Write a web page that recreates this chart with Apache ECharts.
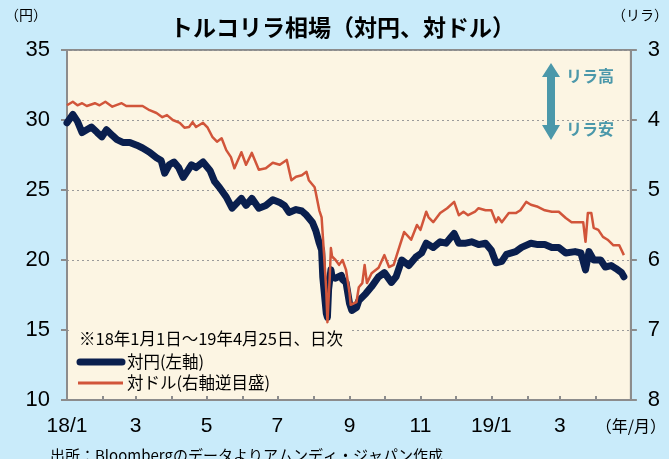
<!DOCTYPE html>
<html>
<head>
<meta charset="utf-8">
<script src="https://cdn.jsdelivr.net/npm/echarts@6/dist/echarts.min.js"></script>
<style>
html,body{margin:0;padding:0;background:#C9EBFA;}
#c{width:669px;height:459px;}
</style>
</head>
<body>
<div id="c"></div>
<script>
// ---- data ----
const axisStart = '2018-01-01';
const axisEnd = '2019-05-01';

const jpyDates = ['2018-01-01','2018-01-06','2018-01-10','2018-01-14','2018-01-18','2018-01-22','2018-01-27','2018-01-31',
'2018-02-04','2018-02-09','2018-02-13','2018-02-18','2018-02-24','2018-03-02','2018-03-07','2018-03-13','2018-03-19',
'2018-03-23','2018-03-26','2018-03-30','2018-04-03','2018-04-07','2018-04-11','2018-04-15','2018-04-18','2018-04-22',
'2018-04-28','2018-05-04','2018-05-08','2018-05-12','2018-05-18','2018-05-23','2018-05-31','2018-06-04','2018-06-09',
'2018-06-15','2018-06-21','2018-06-27','2018-07-03','2018-07-07','2018-07-11','2018-07-17','2018-07-22','2018-07-26',
'2018-07-31','2018-08-03','2018-08-06','2018-08-08','2018-08-09','2018-08-12','2018-08-13','2018-08-14','2018-08-16',
'2018-08-17','2018-08-20','2018-08-25','2018-08-26','2018-08-29','2018-09-01','2018-09-03','2018-09-07','2018-09-09',
'2018-09-15','2018-09-20','2018-09-26','2018-10-01','2018-10-07','2018-10-11','2018-10-16','2018-10-22','2018-10-28',
'2018-11-02','2018-11-06','2018-11-12','2018-11-18','2018-11-23','2018-11-27','2018-11-30','2018-12-04','2018-12-10',
'2018-12-15','2018-12-21','2018-12-27','2019-01-01','2019-01-05','2019-01-10','2019-01-14','2019-01-22','2019-01-27',
'2019-02-04','2019-02-10','2019-02-16','2019-02-22','2019-02-28','2019-03-06','2019-03-14','2019-03-19','2019-03-23',
'2019-03-26','2019-03-30','2019-04-05','2019-04-09','2019-04-14','2019-04-18','2019-04-23','2019-04-25'];
const jpyValues = [29.8,30.4,29.9,29.1,29.3,29.5,29.1,28.8,
29.3,28.9,28.6,28.4,28.4,28.2,28.0,27.7,27.3,
27.1,26.2,26.8,27.0,26.6,25.9,26.4,26.8,26.6,
27.0,26.4,25.6,25.2,24.5,23.7,24.4,23.9,24.4,
23.7,23.9,24.3,24.1,23.9,23.4,23.6,23.5,23.2,
22.7,22.1,21.2,20.7,18.8,16.2,15.9,17.9,19.3,
18.8,18.7,18.9,18.6,18.4,16.9,16.4,16.6,17.1,
17.6,18.1,18.8,19.1,18.4,18.8,20.0,19.6,20.2,
20.5,21.2,20.9,21.3,21.2,21.6,21.9,21.2,21.2,
21.3,21.1,21.2,20.7,19.8,19.9,20.4,20.6,20.9,
21.2,21.1,21.1,20.9,20.9,20.5,20.6,20.5,19.3,
20.6,20.0,20.0,19.5,19.6,19.4,19.1,18.8];

const usdDates = ['2018-01-01','2018-01-06','2018-01-10','2018-01-14','2018-01-18','2018-01-25','2018-01-29','2018-02-03',
'2018-02-09','2018-02-17','2018-02-21','2018-02-27','2018-03-07','2018-03-13','2018-03-19','2018-03-24','2018-03-28',
'2018-04-02','2018-04-08','2018-04-12','2018-04-16','2018-04-19','2018-04-22','2018-04-28','2018-05-02','2018-05-06',
'2018-05-10','2018-05-14','2018-05-18','2018-05-22','2018-05-25','2018-05-31','2018-06-04','2018-06-09','2018-06-15',
'2018-06-21','2018-06-27','2018-07-03','2018-07-09','2018-07-13','2018-07-17','2018-07-22','2018-07-26','2018-07-28',
'2018-08-02','2018-08-03','2018-08-06','2018-08-08','2018-08-10','2018-08-12','2018-08-13','2018-08-15','2018-08-16',
'2018-08-17','2018-08-20','2018-08-23','2018-08-26','2018-08-29','2018-09-01','2018-09-02','2018-09-07','2018-09-09',
'2018-09-12','2018-09-14','2018-09-16','2018-09-20','2018-09-26','2018-10-01','2018-10-05','2018-10-09','2018-10-13',
'2018-10-18','2018-10-24','2018-10-29','2018-11-01','2018-11-06','2018-11-08','2018-11-12','2018-11-18','2018-11-24',
'2018-11-30','2018-12-04','2018-12-08','2018-12-12','2018-12-18','2018-12-21','2018-12-27','2019-01-01','2019-01-05',
'2019-01-07','2019-01-10','2019-01-16','2019-01-22','2019-01-26','2019-01-31','2019-02-04','2019-02-10','2019-02-16',
'2019-02-22','2019-02-28','2019-03-06','2019-03-11','2019-03-17','2019-03-21','2019-03-23','2019-03-25','2019-03-28',
'2019-03-30','2019-04-03','2019-04-07','2019-04-11','2019-04-16','2019-04-21','2019-04-25'];
const usdValues = [3.79,3.74,3.79,3.76,3.80,3.76,3.79,3.74,
3.81,3.76,3.80,3.80,3.80,3.86,3.90,3.96,3.93,
4.00,4.04,4.11,4.10,4.03,4.10,4.04,4.11,4.24,
4.31,4.26,4.43,4.53,4.69,4.46,4.64,4.47,4.71,
4.69,4.61,4.64,4.57,4.86,4.81,4.79,4.74,4.86,
4.96,5.04,5.29,5.39,5.90,6.43,6.89,6.24,5.83,
5.95,6.00,6.07,6.00,6.14,6.47,6.64,6.60,6.39,
6.33,6.07,6.33,6.19,6.11,5.93,6.10,6.07,5.86,
5.60,5.71,5.50,5.57,5.31,5.39,5.46,5.33,5.26,
5.17,5.36,5.31,5.36,5.31,5.26,5.29,5.29,5.46,
5.39,5.46,5.33,5.33,5.29,5.17,5.21,5.24,5.29,
5.31,5.31,5.40,5.46,5.46,5.46,5.74,5.33,5.33,
5.54,5.57,5.67,5.71,5.79,5.79,5.93];

const titleText = 'トルコリラ相場（対円、対ドル）';
const jpyName = '対円(左軸)';
const usdName = '対ドル(右軸逆目盛)';
const noteText = '※18年1月1日～19年4月25日、日次';
const sourceText = '出所：Bloombergのデータよりアムンディ・ジャパン作成';
const unitLeft = '（円）';
const unitRight = '（リラ）';
const unitX = '（年/月）';
const upText = 'リラ高';
const downText = 'リラ安';

// ---- build daily category axis ----
const days = [];
for (let t = Date.parse(axisStart + 'T00:00:00Z'); t <= Date.parse(axisEnd + 'T00:00:00Z'); t += 86400000) {
  days.push(new Date(t).toISOString().slice(0, 10));
}
const jpyData = jpyDates.map((d, i) => [d, jpyValues[i]]);
const usdData = usdDates.map((d, i) => [d, usdValues[i]]);

const NAVY = '#0A1F4E';
const ORANGE = '#D1553A';
const TEAL = '#4B98AA';
const GREY = '#8C8C8C';
const NUMFONT = "'Liberation Sans', Arial, 'Noto Sans CJK JP', sans-serif";
const JPFONT = "'Noto Sans CJK JP', 'Liberation Sans', sans-serif";

const chart = echarts.init(document.getElementById('c'), null, {renderer: 'canvas'});
chart.setOption({
  animation: false,
  backgroundColor: '#C9EBFA',
  title: {
    text: titleText, left: 170, top: 16, padding: 0,
    textStyle: {fontFamily: JPFONT, fontSize: 23, fontWeight: 'bold', color: '#000'}
  },
  grid: {
    left: 67, right: 36, top: 50, bottom: 59, show: true,
    backgroundColor: '#FCF5E3', borderColor: GREY, borderWidth: 2
  },
  xAxis: {
    type: 'category', data: days, boundaryGap: false,
    axisLine: {lineStyle: {color: GREY, width: 2}},
    axisTick: {
      inside: true, length: 4, lineStyle: {color: GREY, width: 2},
      interval: (i, v) => v.slice(8) === '01'
    },
    axisLabel: {
      interval: (i, v) => v.slice(8) === '01' && (+v.slice(5, 7)) % 2 === 1,
      margin: 16, color: '#000', fontFamily: NUMFONT, fontSize: 21,
      formatter: (v) => {
        if (v === axisEnd) return '{u|' + unitX + '}';
        const m = +v.slice(5, 7);
        return m === 1 ? v.slice(2, 4) + '/1' : String(m);
      },
      rich: {u: {fontFamily: JPFONT, fontSize: 16, color: '#000', padding: [2, 0, 0, 0]}}
    },
    splitLine: {show: false}
  },
  yAxis: [{
    type: 'value', min: 10, max: 35, interval: 5, position: 'left',
    axisLine: {show: true, lineStyle: {color: GREY, width: 2}},
    axisTick: {show: true, length: 6, lineStyle: {color: GREY, width: 2}},
    axisLabel: {margin: 17, color: '#000', fontFamily: NUMFONT, fontSize: 22},
    splitLine: {show: true, lineStyle: {color: '#9A9A9A', type: [2, 3], width: 1}}
  }, {
    type: 'value', min: 3, max: 8, interval: 1, position: 'right', inverse: true,
    axisLine: {show: true, lineStyle: {color: GREY, width: 2}},
    axisTick: {show: true, length: 6, lineStyle: {color: GREY, width: 2}},
    axisLabel: {margin: 17, color: '#000', fontFamily: NUMFONT, fontSize: 22},
    splitLine: {show: false}
  }],
  series: [{
    name: jpyName, type: 'line', yAxisIndex: 0, data: jpyData,
    showSymbol: false, symbol: 'none', z: 3,
    lineStyle: {color: NAVY, width: 7, cap: 'round', join: 'round'}
  }, {
    name: usdName, type: 'line', yAxisIndex: 1, data: usdData,
    showSymbol: false, symbol: 'none', z: 4,
    lineStyle: {color: ORANGE, width: 2.5, join: 'round'}
  }],
  graphic: [
    {type: 'text', left: 5, top: 8, style: {text: unitLeft, fontFamily: JPFONT, fontSize: 14, fill: '#000'}},
    {type: 'text', left: 612, top: 8, style: {text: unitRight, fontFamily: JPFONT, fontSize: 14, fill: '#000'}},
    // legend box
    {type: 'rect', shape: {x: 72, y: 325, width: 278, height: 70}, style: {fill: '#FCF5E3'}, z: 5},
    {type: 'text', x: 79, y: 339, z: 6, style: {text: noteText, fontFamily: JPFONT, fontSize: 16.5, fill: '#000', verticalAlign: 'middle'}},
    {type: 'line', shape: {x1: 80, y1: 362, x2: 122, y2: 362}, z: 6, style: {stroke: NAVY, lineWidth: 7, lineCap: 'round'}},
    {type: 'text', x: 127, y: 362, z: 6, style: {text: jpyName, fontFamily: JPFONT, fontSize: 16.5, fill: '#000', verticalAlign: 'middle'}},
    {type: 'line', shape: {x1: 78, y1: 383, x2: 123, y2: 383}, z: 6, style: {stroke: ORANGE, lineWidth: 3}},
    {type: 'text', x: 127, y: 383, z: 6, style: {text: usdName, fontFamily: JPFONT, fontSize: 16.5, fill: '#000', verticalAlign: 'middle'}},
    // arrow annotation
    {type: 'polygon', z: 6, shape: {points: [[551, 63], [560, 77], [555, 77], [555, 125], [560, 125], [551, 140], [542, 125], [547, 125], [547, 77], [542, 77]]}, style: {fill: TEAL}},
    {type: 'text', x: 566, y: 76, z: 6, style: {text: upText, fontFamily: JPFONT, fontSize: 16, fontWeight: 'bold', fill: TEAL, verticalAlign: 'middle'}},
    {type: 'text', x: 566, y: 129, z: 6, style: {text: downText, fontFamily: JPFONT, fontSize: 16, fontWeight: 'bold', fill: TEAL, verticalAlign: 'middle'}},
    // source
    {type: 'text', x: 50, y: 455, z: 6, style: {text: sourceText, fontFamily: JPFONT, fontSize: 15, fill: '#000', verticalAlign: 'middle'}}
  ]
});
</script>
</body>
</html>
